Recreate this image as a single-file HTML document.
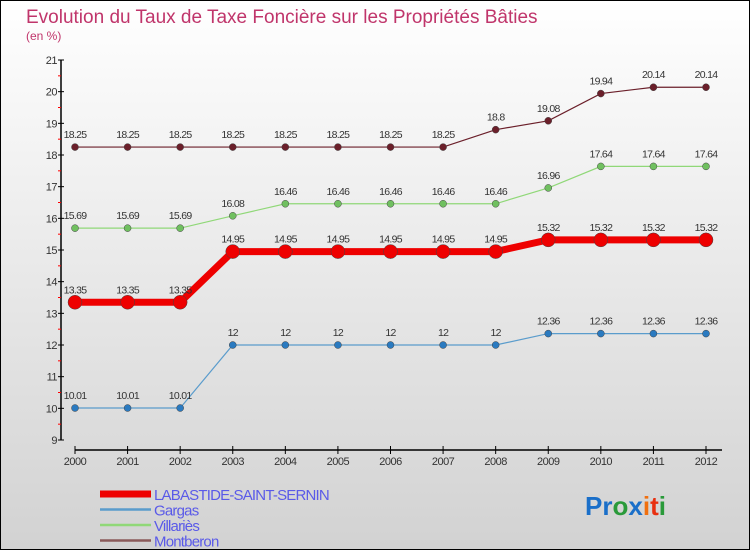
<!DOCTYPE html>
<html><head><meta charset="utf-8"><style>
body{margin:0;width:750px;height:550px;overflow:hidden}
svg{display:block}
text{font-family:"Liberation Sans",sans-serif}
</style></head><body>
<svg id="c" width="750" height="550" xmlns="http://www.w3.org/2000/svg">
<defs><linearGradient id="bg" x1="0" y1="0" x2="0" y2="1"><stop offset="0" stop-color="#ffffff"/><stop offset="1" stop-color="#d2d2d2"/></linearGradient></defs>
<rect x="0.5" y="0.5" width="749" height="549" fill="url(#bg)" stroke="#000"/>
<text x="26" y="23" font-size="19" fill="#c0356b">Evolution du Taux de Taxe Foncière sur les Propriétés Bâties</text>
<text x="26" y="40" font-size="12" fill="#c0356b">(en %)</text>
<g id="axes"></g>
<g id="series"></g>
<g id="legend"></g>
<text x="585" y="515" font-size="26" font-weight="bold"><tspan fill="#1a6fc9">Pr</tspan><tspan fill="#2a9a3a">o</tspan><tspan fill="#1a6fc9">x</tspan><tspan fill="#f07010">i</tspan><tspan fill="#e83010">t</tspan><tspan fill="#2a9a3a">i</tspan></text>
</svg>
<script>
const years=[2000,2001,2002,2003,2004,2005,2006,2007,2008,2009,2010,2011,2012];
const yTicks=[9,10,11,12,13,14,15,16,17,18,19,20,21];
const labastide=[13.35,13.35,13.35,14.95,14.95,14.95,14.95,14.95,14.95,15.32,15.32,15.32,15.32];
const gargas=[10.01,10.01,10.01,12,12,12,12,12,12,12.36,12.36,12.36,12.36];
const villaries=[15.69,15.69,15.69,16.08,16.46,16.46,16.46,16.46,16.46,16.96,17.64,17.64,17.64];
const montberon=[18.25,18.25,18.25,18.25,18.25,18.25,18.25,18.25,18.8,19.08,19.94,20.14,20.14];
const seriesNames=["LABASTIDE-SAINT-SERNIN","Gargas","Villariès","Montberon"];
const NS="http://www.w3.org/2000/svg";
const X=i=>75+i*(706-75)/(years.length-1);
const Y=v=>60+(21-v)*(380/12);
function mk(t,a,p){const e=document.createElementNS(NS,t);for(const k in a)e.setAttribute(k,a[k]);p.appendChild(e);return e;}
const ax=document.getElementById('axes');
let l=mk('line',{x1:61,y1:60,x2:61,y2:440,stroke:'#000','stroke-width':1.5},ax);


yTicks.forEach(v=>{
 mk('line',{x1:58,y1:Y(v),x2:64,y2:Y(v),stroke:'#000'},ax);
 if(v<21)mk('line',{x1:58,y1:Y(v+0.5),x2:61,y2:Y(v+0.5),stroke:'#f00'},ax);
 const t=mk('text',{x:57,y:Y(v)+4,'font-size':11,'text-anchor':'end',fill:'#333','letter-spacing':'-0.5'},ax);t.textContent=v;
 
 
});
l=mk('line',{x1:75,y1:450,x2:722,y2:450,stroke:'#000','stroke-width':1.5},ax);


years.forEach((y,i)=>{
 mk('line',{x1:X(i),y1:446,x2:X(i),y2:454,stroke:'#000'},ax);
 const t=mk('text',{x:X(i),y:465,'font-size':11,'text-anchor':'middle',fill:'#333','letter-spacing':'-0.5'},ax);t.textContent=y;
 
 
});
const sg=document.getElementById('series');
const defs=[[montberon,'#6b1f2a','#6b1f2a',1.2,3.5,'montberon'],[villaries,'#90d878','#70c060',1.2,3.5,'villaries'],[gargas,'#5a9ccc','#2a7ac0',1.2,3.5,'gargas'],[labastide,'#ee0000','#ee0000',7,7,'labastide']];
defs.forEach(([d,c,pc,w,r,n])=>{
 const g=mk('g',{},sg);
 
 
 const p=mk('polyline',{points:d.map((v,i)=>X(i)+','+Y(v)).join(' '),fill:'none',stroke:c,'stroke-width':w},g);
 
 
 d.forEach((v,i)=>{
  const ci=mk('circle',{cx:X(i),cy:Y(v),r:r,fill:pc,stroke:'#444','stroke-width':0.5},g);
  
  
  const t=mk('text',{x:X(i),y:Y(v)-9,'font-size':10.5,'text-anchor':'middle',fill:'#333','letter-spacing':'-0.7'},g);
  t.textContent=v;
  
  
 });
});
const lg=document.getElementById('legend');
const lc=['#ee0000','#5a9ccc','#90d878','#8a5a5a'],lw=[7,2.5,2.5,2.5];
seriesNames.forEach((s,i)=>{
 const y=492+i*15.5;
 const g=mk('g',{},lg);
 
 
 mk('line',{x1:100,y1:y+2,x2:151,y2:y+2,stroke:lc[i],'stroke-width':lw[i]},g);
 const t=mk('text',{x:154,y:y+8,'font-size':15,fill:'#5a5ae8','letter-spacing':'-0.8'},g);t.textContent=s;
});
</script>
</body></html>
